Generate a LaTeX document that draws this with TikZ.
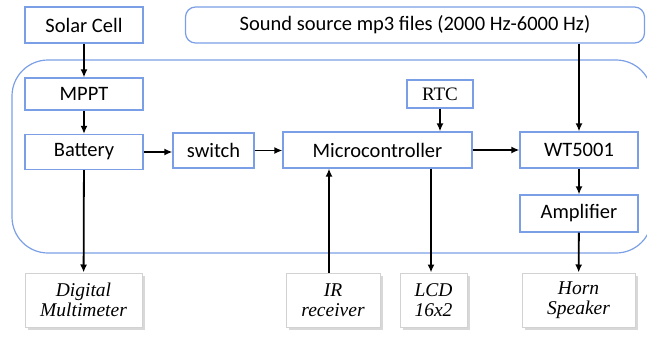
\documentclass[tikz,border=0pt]{standalone}
\usepackage{fontspec}
\setmainfont{Carlito}
\newfontfamily\serifit{Liberation Serif}
\usetikzlibrary{arrows.meta,shadows}
\definecolor{boxblue}{HTML}{7A9FE6}
\begin{document}
\begin{tikzpicture}[x=1pt, y=-1pt,
  blk/.style={draw=boxblue, line width=1.2pt, fill=white, inner sep=0pt,
    font=\fontsize{20.5}{22}\selectfont},
  dev/.style={draw=gray!35, line width=1pt, fill=white, inner sep=0pt,
    minimum height=54pt, align=center,
    font=\serifit\itshape\fontsize{19.5}{20}\selectfont,
    drop shadow={shadow xshift=2.5pt, shadow yshift=-3pt, fill=gray!60}},
  sig/.style={-{Latex[length=8pt,width=7pt]}, line width=1.8pt, black}]
\useasboundingbox (0,0) rectangle (647,337);

  \draw[boxblue, line width=1.2pt, rounded corners=36pt] (12,60) rectangle (652,253);

\node[blk, minimum width=118pt, minimum height=36pt] (solar) at (84,25) {Solar Cell};
\node[blk, minimum width=459pt, minimum height=36pt, rounded corners=10pt] (sound) at (415,25) {Sound source mp3 files (2000 Hz-6000 Hz)};
\node[blk, minimum width=118pt, minimum height=32pt] (mppt) at (84,94) {MPPT};
\node[blk, minimum width=118pt, minimum height=35pt] (battery) at (84,152) {Battery};
\node[blk, minimum width=81pt, minimum height=35pt] (switch) at (213.5,150.5) {switch};
\node[blk, minimum width=189pt, minimum height=36pt] (micro) at (377.5,150) {Microcontroller};
\node[blk, minimum width=66pt, minimum height=28pt, font=\serifit\fontsize{19}{21}\selectfont] (rtc) at (440,94) {RTC};
\node[blk, minimum width=118pt, minimum height=36pt] (wt) at (579,150) {WT5001};
\node[blk, minimum width=118pt, minimum height=37pt] (amp) at (579,213.5) {Amplifier};

  % external devices
\node[dev, minimum width=117pt] (dmm) at (83.5,300) {Digital\\Multimeter};
\node[dev, minimum width=94pt] (ir) at (333,300) {IR\\receiver};
\node[dev, minimum width=67pt] (lcd) at (433.5,300) {LCD\\16x2};
\node[dev, minimum width=113pt] (horn) at (578.5,300) {Horn\\Speaker};

  \draw[sig] (solar) -- (mppt);
  \draw[sig] (mppt) -- (battery);
  \draw[sig] (battery) -- (battery -| switch.west);
  \draw[sig] (switch) -- (switch -| micro.west);
  \draw[sig] (rtc) -- (rtc |- micro.north);
  \draw[sig] (micro) -- (micro -| wt.west);
  \draw[sig] (sound.south -| wt.north) -- (wt);
  \draw[sig] (wt) -- (amp);
  \draw[sig] (amp) -- (horn);
  \draw[sig] (battery) -- (dmm);
  \draw[sig] (ir.north -| 329,0) -- (micro.south -| 329,0);
  \draw[sig] (micro.south -| 431,0) -- (lcd.north -| 431,0);

\end{tikzpicture}
\end{document}
